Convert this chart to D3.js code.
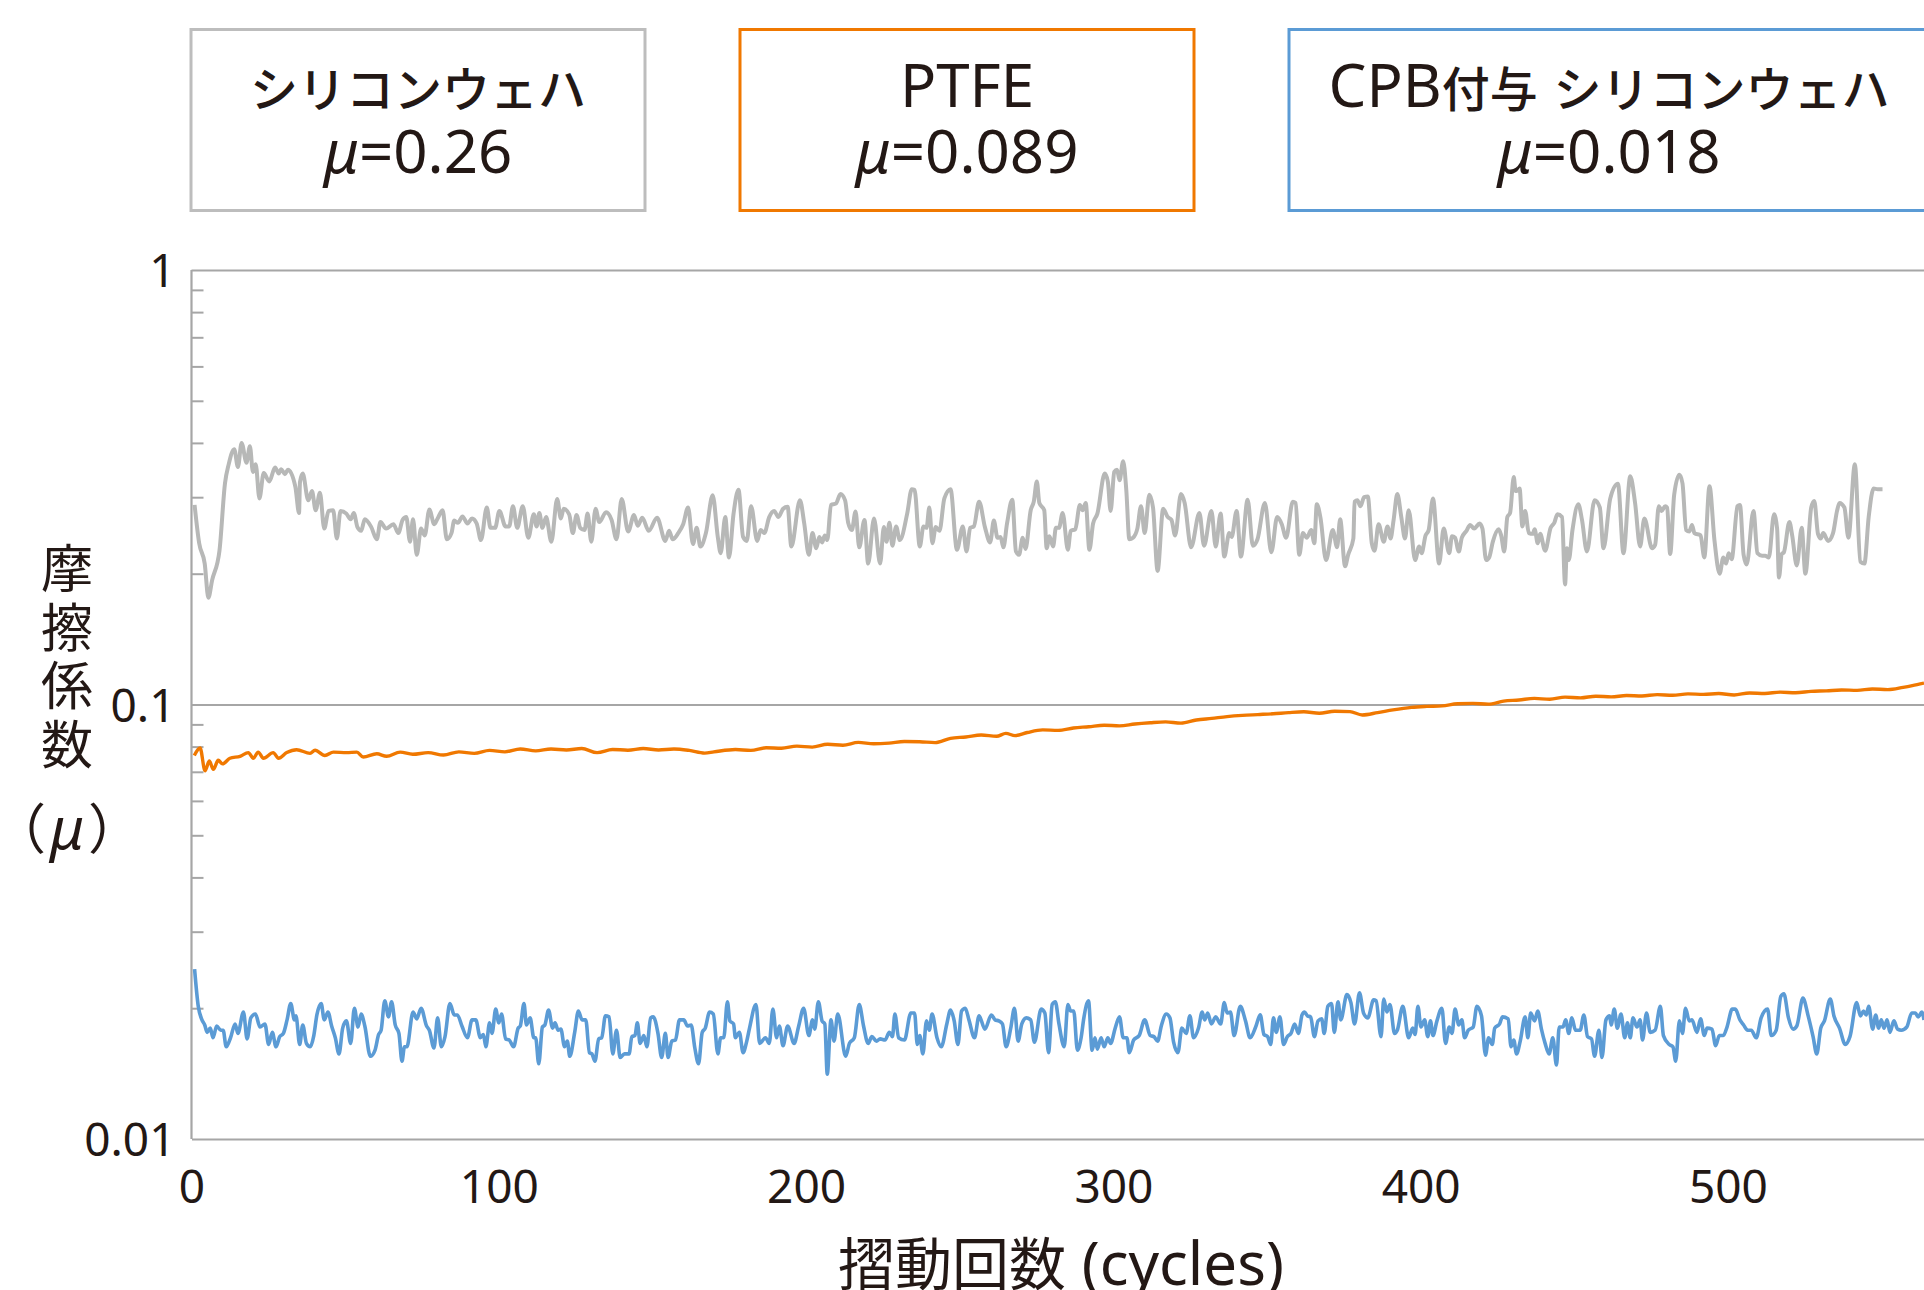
<!DOCTYPE html>
<html>
<head>
<meta charset="utf-8">
<script src="https://cdn.jsdelivr.net/npm/d3@7"></script>
<style>
html, body { margin: 0; padding: 0; background: #fff; overflow: hidden; }
svg { display: block; }
</style>
</head>
<body>
<div id="chart"></div>
<script>

// ---------- DATA ----------

var xTicks = [0, 100, 200, 300, 400, 500];
var yMajor = [0.01, 0.1, 1];
var yMinor = [0.02, 0.03, 0.04, 0.05, 0.06, 0.07, 0.08, 0.09,
              0.2, 0.3, 0.4, 0.5, 0.6, 0.7, 0.8, 0.9];

var legendNames = ['シリコンウェハ', 'PTFE', 'CPB付与 シリコンウェハ'];
var legendMu = ['0.26', '0.089', '0.018'];
var seriesColors = ['#b7b8b7', '#f07800', '#5b9bd5'];

var xTitle = '摺動回数 (cycles)';
var yTitle = ['摩', '擦', '係', '数'];

// silicon wafer  [cycle, mu]
var siliconData = [
 [1.0,.288],[2.5,.235],[4.3,.211],[5.5,.176],[6.7,.193],[9.1,.226],[10.9,.323],[12.1,.357],
 [13.9,.387],[15.1,.352],[16.3,.400],[17.9,.360],[19.0,.393],[20.0,.343],[20.9,.357],[22.1,.298],
 [23.5,.341],[25.3,.326],[27.2,.351],[28.4,.340],[29.2,.348],[30.4,.339],[31.4,.347],[33.8,.317],
 [35.0,.276],[35.3,.325],[36.2,.340],[38.0,.295],[39.2,.310],[40.4,.280],[41.8,.307],[43.2,.254],
 [44.6,.279],[46.1,.280],[47.3,.241],[48.5,.279],[50.4,.275],[51.8,.267],[52.8,.276],[54.0,.256],
 [55.2,.251],[56.4,.267],[58.5,.256],[60.3,.240],[61.5,.263],[63.3,.254],[65.7,.260],[67.3,.248],
 [68.7,.266],[69.9,.270],[71.1,.237],[72.1,.267],[73.3,.221],[74.7,.254],[75.9,.245],[77.4,.281],
 [79.0,.260],[80.1,.268],[81.7,.280],[83.1,.240],[84.6,.248],[85.5,.265],[86.7,.262],[88.2,.271],
 [89.8,.261],[91.3,.268],[92.8,.261],[94.2,.239],[96.1,.284],[97.3,.255],[98.8,.255],[100.2,.279],
 [102.2,.257],[103.4,.257],[104.6,.286],[106.0,.255],[107.8,.286],[109.6,.242],[111.4,.274],[112.3,.257],
 [113.2,.276],[114.2,.255],[115.4,.270],[117.1,.237],[119.0,.297],[120.2,.268],[121.1,.282],[122.9,.274],
 [124.1,.248],[125.3,.273],[126.5,.255],[127.9,.252],[128.9,.275],[130.1,.237],[131.5,.282],[132.7,.263],
 [134.9,.277],[136.7,.266],[138.3,.240],[140.0,.297],[142.1,.250],[144.0,.273],[145.2,.258],[146.7,.269],
 [148.8,.251],[151.5,.269],[154.2,.238],[155.4,.251],[156.6,.240],[158.4,.248],[160.0,.260],[161.6,.284],
 [163.2,.234],[164.4,.255],[165.6,.231],[167.4,.248],[169.6,.303],[171.3,.242],[172.2,.223],[173.7,.270],
 [174.9,.218],[176.4,.275],[178.0,.312],[179.5,.243],[180.7,.238],[182.1,.286],[184.1,.238],[185.2,.252],
 [186.4,.248],[188.0,.270],[189.6,.279],[191.0,.270],[192.5,.282],[194.0,.285],[195.2,.231],[198.0,.295],
 [199.4,.261],[200.9,.221],[202.1,.248],[203.3,.229],[204.3,.243],[205.2,.236],[206.1,.245],[206.9,.239],
 [208.1,.288],[209.7,.290],[211.2,.305],[212.7,.295],[213.7,.262],[214.9,.252],[216.1,.278],[217.3,.230],
 [219.0,.266],[220.2,.211],[222.1,.268],[224.1,.211],[225.3,.256],[226.2,.237],[227.1,.262],[228.1,.232],
 [229.3,.257],[230.5,.239],[232.9,.275],[234.4,.313],[235.3,.312],[237.0,.231],[238.2,.257],[239.2,.255],
 [240.1,.284],[241.1,.235],[242.2,.256],[243.4,.251],[245.0,.298],[247.0,.313],[249.1,.227],[251.0,.257],
 [252.2,.225],[253.4,.255],[254.6,.257],[256.3,.293],[258.2,.256],[259.9,.236],[261.1,.265],[262.3,.242],
 [263.3,.243],[264.2,.230],[265.4,.261],[267.1,.296],[268.3,.225],[269.3,.221],[270.5,.242],[271.4,.228],
 [273.1,.280],[274.1,.293],[275.1,.326],[275.9,.291],[277.5,.280],[278.3,.229],[279.2,.244],[280.4,.231],
 [281.3,.255],[282.3,.255],[283.5,.276],[285.2,.227],[286.1,.251],[287.6,.253],[289.1,.288],[290.0,.280],
 [291.0,.291],[292.2,.227],[293.4,.261],[294.8,.275],[297.2,.340],[298.2,.326],[299.1,.279],[300.3,.343],
 [301.2,.347],[302.0,.328],[303.2,.363],[304.2,.312],[305.2,.240],[306.4,.242],[307.8,.254],[309.0,.286],
 [310.2,.248],[311.7,.304],[312.9,.284],[314.4,.203],[316.2,.282],[317.7,.270],[318.9,.266],[320.1,.245],
 [322.0,.305],[323.2,.291],[325.3,.230],[328.0,.276],[329.5,.232],[331.9,.279],[333.3,.231],[334.9,.275],
 [336.1,.219],[337.7,.248],[338.5,.243],[340.1,.279],[341.5,.219],[343.7,.296],[345.4,.232],[346.9,.240],
 [349.3,.291],[351.4,.224],[353.3,.270],[354.8,.260],[356.2,.242],[358.4,.293],[359.3,.291],[360.5,.221],
 [361.7,.248],[362.9,.242],[364.4,.252],[365.4,.235],[366.2,.289],[367.4,.269],[369.2,.215],[371.4,.252],
 [372.8,.230],[373.8,.267],[375.4,.208],[376.4,.221],[378.1,.241],[378.5,.293],[379.4,.295],[380.4,.286],
 [381.6,.300],[382.8,.301],[384.1,.235],[385.0,.226],[386.3,.260],[388.0,.237],[389.2,.257],[390.2,.241],
 [391.2,.266],[392.4,.305],[393.7,.270],[394.9,.241],[396.1,.280],[398.2,.215],[399.5,.231],[400.3,.223],
 [401.6,.245],[402.6,.252],[404.0,.298],[406.0,.211],[407.5,.254],[409.3,.223],[410.2,.244],[411.2,.242],
 [412.4,.225],[413.4,.242],[414.9,.251],[416.1,.259],[417.4,.254],[419.2,.261],[420.1,.254],[421.3,.215],
 [422.3,.218],[423.5,.237],[425.4,.253],[426.2,.245],[427.2,.225],[428.2,.270],[429.1,.276],[430.3,.334],
 [430.9,.310],[431.5,.311],[432.2,.314],[433.1,.257],[434.0,.279],[435.2,.248],[436.5,.247],[437.1,.253],
 [438.1,.235],[438.9,.247],[440.5,.226],[442.3,.255],[443.5,.262],[444.5,.274],[446.0,.270],[447.0,.189],
 [447.6,.229],[448.2,.215],[449.4,.252],[451.3,.289],[452.5,.266],[454.1,.225],[456.6,.295],[458.3,.284],
 [459.5,.229],[461.7,.298],[464.2,.322],[466.0,.223],[468.2,.335],[469.8,.290],[471.4,.231],[472.8,.268],
 [475.3,.229],[476.3,.233],[477.5,.286],[478.4,.279],[479.6,.286],[480.2,.284],[481.2,.222],[482.5,.304],
 [484.2,.338],[485.2,.323],[486.4,.252],[487.4,.250],[488.3,.259],[489.1,.248],[491.1,.245],[492.3,.218],
 [494.0,.318],[495.6,.239],[497.3,.200],[498.5,.218],[499.4,.211],[500.2,.223],[501.2,.216],[503.1,.286],
 [503.9,.288],[505.1,.221],[506.1,.210],[508.3,.279],[509.6,.223],[511.1,.220],[512.1,.220],[513.3,.218],
 [515.0,.274],[516.0,.254],[516.6,.196],[517.5,.222],[518.2,.224],[520.0,.263],[520.9,.245],[522.4,.209],
 [524.0,.255],[525.2,.200],[527.1,.284],[528.1,.294],[529.3,.247],[530.2,.241],[531.0,.248],[532.6,.238],
 [534.2,.248],[535.5,.279],[536.3,.291],[537.9,.284],[539.2,.242],[541.3,.357],[543.1,.213],[544.4,.211],
 [545.8,.270],[547.4,.314],[548.7,.313],[550.3,.313]
];

// PTFE  [cycle, mu]
var ptfeData = [
 [0.9,.0763],[2.8,.0794],[4.4,.0704],[5.8,.0741],[7.1,.0709],[8.7,.0744],[10.1,.0730],[12.5,.0752],
 [15.8,.0760],[18.5,.0775],[20.1,.0752],[21.7,.0777],[23.4,.0752],[26.6,.0775],[28.3,.0752],[31.0,.0775],
 [34.2,.0787],[38.6,.0772],[40.2,.0785],[43.4,.0763],[46.2,.0777],[50.5,.0775],[53.8,.0777],[55.9,.0757],
 [60.3,.0770],[63.5,.0760],[67.9,.0777],[72,.0768],[77,.0775],[82,.0765],[87,.0778],[92,.0772],
 [97,.0784],[102,.0778],[107,.0790],[112,.0782],[117,.0790],[122,.0786],[127,.0792],[132,.0775],
 [137,.0788],[142,.0785],[147,.0792],[152,.0786],[157,.0790],[162,.0784],[167,.0773],[170,.0778],
 [177,.0788],[182,.0784],[187,.0795],[192,.0793],[197,.0802],[202,.0798],[207,.0810],[212,.0806],
 [217,.0818],[222,.0812],[227,.0815],[232,.0822],[237,.0821],[242,.0817],[247,.0836],[252,.0842],
 [257,.0851],[262,.0845],[265,.0858],[268,.0848],[272,.0862],[277,.0874],[282,.0872],[287,.0883],
 [292,.0889],[297,.0896],[302,.0893],[307,.0902],[312,.0908],[317,.0912],[322,.0906],[327,.0921],
 [332,.0929],[337,.0938],[342,.0944],[347,.0948],[352,.0952],[357,.0958],[362,.0962],[367,.0955],
 [372,.0965],[377,.0963],[381,.0946],[386,.0958],[391,.0972],[397,.0985],[402,.0990],[407,.0993],
 [412,.1004],[417,.1006],[422,.1002],[427,.1018],[432,.1024],[437,.1033],[442,.1028],[447,.1040],
 [452,.1036],[457,.1045],[462,.1041],[467,.1049],[472,.1046],[477,.1054],[482,.1050],[487,.1058],
 [492,.1055],[497,.1060],[502,.1052],[507,.1063],[512,.1060],[517,.1068],[522,.1064],[527,.1072],
 [532,.1075],[537,.1080],[542,.1078],[547,.1086],[552,.1082],[557,.1095],[560,.1105],[563.8,.1120]
];

// CPB coated silicon wafer  [cycle, mu]
var cpbData = [
 [1.0,.0246],[2.2,.0202],[3.4,.0188],[4.3,.0183],[5.1,.0176],[6.1,.0180],[7.0,.0171],[8.2,.0182],
 [9.5,.0178],[10.3,.0178],[11.3,.0163],[12.7,.0171],[14.2,.0184],[15.1,.0175],[16.9,.0196],[18.1,.0170],
 [19.3,.0190],[20.8,.0194],[22.3,.0181],[23.9,.0184],[25.1,.0165],[26.3,.0176],[27.5,.0163],[28.7,.0172],
 [29.9,.0175],[31.1,.0188],[32.3,.0205],[33.5,.0188],[34.0,.0192],[35.2,.0165],[36.2,.0183],[37.4,.0166],
 [38.6,.0163],[39.8,.0173],[40.8,.0193],[42.2,.0205],[43.2,.0188],[44.4,.0196],[45.6,.0182],[46.8,.0171],
 [48.0,.0157],[49.2,.0180],[50.4,.0187],[51.8,.0166],[53.0,.0200],[54.2,.0181],[55.2,.0194],[56.4,.0182],
 [58.2,.0155],[59.7,.0160],[60.9,.0174],[61.7,.0178],[62.9,.0208],[64.1,.0191],[65.1,.0207],[66.3,.0183],
 [67.5,.0175],[68.5,.0151],[69.3,.0163],[70.1,.0163],[72.1,.0196],[73.3,.0189],[74.7,.0200],[76.5,.0182],
 [77.4,.0178],[78.9,.0162],[80.1,.0190],[81.3,.0163],[82.5,.0172],[84.1,.0205],[85.5,.0193],[86.5,.0193],
 [88.0,.0182],[89.8,.0171],[91.3,.0188],[92.5,.0188],[94.0,.0171],[95.0,.0174],[95.8,.0163],[97.0,.0185],
 [97.8,.0175],[99.0,.0199],[100.0,.0185],[100.9,.0194],[102.2,.0170],[103.4,.0169],[104.8,.0163],[106.3,.0180],
 [107.0,.0182],[108.2,.0205],[109.0,.0183],[110.2,.0190],[111.4,.0171],[112.0,.0171],[113.0,.0149],[114.2,.0181],
 [115.0,.0183],[116.2,.0198],[117.5,.0180],[118.3,.0185],[119.3,.0178],[120.2,.0179],[121.4,.0163],[122.3,.0168],
 [123.1,.0155],[124.7,.0176],[125.9,.0197],[127.1,.0188],[128.3,.0188],[129.5,.0158],[130.3,.0157],[131.3,.0151],
 [132.5,.0170],[133.5,.0171],[134.7,.0192],[135.9,.0191],[137.1,.0157],[138.3,.0178],[139.5,.0154],[140.9,.0157],
 [142.4,.0157],[143.3,.0172],[144.3,.0173],[145.1,.0185],[146.0,.0166],[147.2,.0173],[148.2,.0163],[149.4,.0190],
 [150.3,.0191],[151.8,.0175],[153.0,.0154],[154.2,.0175],[155.1,.0154],[156.3,.0168],[157.5,.0169],[158.8,.0188],
 [160.2,.0188],[161.4,.0182],[162.6,.0183],[163.8,.0162],[165.0,.0149],[166.2,.0176],[167.2,.0180],[168.6,.0196],
 [169.8,.0194],[171.3,.0157],[172.2,.0171],[173.2,.0171],[174.4,.0207],[175.2,.0187],[176.4,.0184],[177.0,.0171],
 [178.3,.0176],[179.5,.0158],[180.7,.0168],[181.6,.0180],[183.7,.0204],[184.9,.0166],[186.8,.0171],[188.0,.0166],
 [189.2,.0199],[190.4,.0171],[191.3,.0182],[192.5,.0164],[194.0,.0182],[196.1,.0166],[197.6,.0182],[199.2,.0200],
 [200.9,.0173],[202.1,.0188],[202.8,.0179],[204.0,.0207],[205.2,.0187],[206.1,.0184],[206.9,.0141],[208.1,.0188],
 [209.1,.0168],[210.3,.0194],[212.9,.0155],[214.1,.0166],[215.7,.0171],[217.3,.0204],[218.7,.0182],[220.2,.0166],
 [221.4,.0172],[222.9,.0168],[224.1,.0170],[225.7,.0169],[227.1,.0176],[228.1,.0172],[228.9,.0194],[230.1,.0171],
 [232.0,.0169],[234.1,.0195],[235.3,.0195],[236.2,.0165],[237.0,.0173],[238.0,.0157],[239.2,.0187],[240.1,.0178],
 [241.0,.0194],[242.6,.0171],[244.0,.0163],[245.8,.0184],[247.0,.0198],[248.2,.0187],[249.4,.0165],[250.6,.0197],
 [251.8,.0200],[253.0,.0188],[254.8,.0171],[256.3,.0192],[258.2,.0179],[260.3,.0193],[261.5,.0188],[262.7,.0187],
 [263.9,.0184],[265.1,.0163],[266.6,.0180],[267.8,.0200],[269.0,.0168],[270.2,.0184],[271.7,.0190],[273.1,.0188],
 [274.3,.0167],[276.5,.0199],[277.7,.0195],[278.9,.0158],[280.1,.0204],[281.1,.0207],[282.3,.0184],[284.0,.0163],
 [285.2,.0204],[286.1,.0197],[287.1,.0197],[288.3,.0160],[289.5,.0171],[290.4,.0190],[291.9,.0208],[293.1,.0160],
 [294.0,.0171],[294.8,.0161],[296.0,.0171],[297.0,.0163],[298.2,.0171],[299.1,.0166],[300.6,.0180],[302.0,.0191],
 [303.2,.0171],[304.4,.0171],[305.2,.0158],[306.6,.0169],[308.4,.0173],[310.2,.0188],[312.0,.0173],[313.2,.0172],
 [314.4,.0168],[315.6,.0182],[317.2,.0194],[318.4,.0190],[319.6,.0167],[321.0,.0158],[322.3,.0180],[323.7,.0175],
 [324.9,.0192],[326.1,.0171],[327.7,.0180],[328.9,.0196],[329.7,.0188],[330.7,.0195],[331.9,.0184],[333.3,.0191],
 [334.9,.0184],[336.1,.0206],[337.0,.0195],[338.1,.0196],[339.3,.0173],[341.3,.0202],[343.0,.0187],[344.5,.0171],
 [346.3,.0181],[347.8,.0193],[349.0,.0174],[350.2,.0172],[351.2,.0165],[352.1,.0190],[353.0,.0176],[354.2,.0191],
 [355.4,.0165],[356.6,.0172],[357.8,.0175],[359.0,.0184],[360.2,.0175],[361.4,.0193],[362.2,.0196],[363.2,.0192],
 [364.2,.0191],[365.4,.0172],[366.6,.0187],[367.8,.0189],[368.6,.0175],[369.8,.0202],[371.0,.0205],[371.9,.0176],
 [373.1,.0207],[374.0,.0188],[376.0,.0215],[377.3,.0206],[378.5,.0184],[380.1,.0217],[381.4,.0195],[382.8,.0190],
 [384.7,.0209],[385.5,.0208],[387.1,.0172],[388.0,.0210],[389.0,.0196],[390.0,.0204],[391.5,.0175],[392.4,.0178],
 [394.2,.0202],[396.1,.0171],[397.4,.0180],[398.2,.0174],[399.1,.0202],[400.1,.0181],[401.3,.0188],[402.3,.0172],
 [403.2,.0187],[404.0,.0173],[405.3,.0187],[406.9,.0200],[408.1,.0166],[409.3,.0181],[410.2,.0175],[411.2,.0199],
 [412.4,.0183],[413.4,.0188],[414.3,.0171],[415.5,.0178],[417.1,.0181],[418.3,.0202],[419.8,.0192],[421.1,.0156],
 [422.1,.0171],[423.3,.0165],[424.1,.0180],[425.7,.0184],[426.6,.0191],[428.5,.0189],[429.4,.0163],[430.3,.0169],
 [431.2,.0157],[432.4,.0168],[434.0,.0191],[434.9,.0171],[435.8,.0195],[437.1,.0187],[438.1,.0197],[439.3,.0179],
 [440.5,.0166],[441.8,.0157],[443.0,.0171],[444.2,.0148],[445.1,.0181],[446.3,.0181],[447.2,.0188],[448.2,.0175],
 [449.2,.0190],[450.4,.0178],[451.9,.0178],[453.1,.0193],[454.3,.0172],[455.6,.0170],[456.6,.0155],[458.0,.0178],
 [459.0,.0154],[460.3,.0188],[461.5,.0192],[462.0,.0183],[463.0,.0199],[464.0,.0180],[465.2,.0194],[466.4,.0171],
 [467.3,.0185],[468.2,.0171],[469.1,.0190],[470.4,.0181],[471.4,.0188],[472.2,.0169],[473.5,.0195],[474.7,.0176],
 [476.3,.0178],[478.0,.0202],[479.0,.0173],[480.9,.0165],[482.1,.0163],[483.0,.0151],[484.2,.0187],[485.2,.0175],
 [486.2,.0200],[487.4,.0187],[488.3,.0188],[489.9,.0176],[491.1,.0189],[492.3,.0173],[493.2,.0180],[494.8,.0179],
 [496.0,.0164],[497.2,.0173],[498.5,.0173],[499.7,.0181],[501.4,.0199],[502.4,.0199],[503.9,.0188],[505.1,.0183],
 [506.4,.0178],[507.6,.0178],[509.2,.0171],[510.8,.0190],[512.9,.0199],[514.1,.0173],[515.7,.0178],[517.2,.0213],
 [518.2,.0216],[519.7,.0190],[521.2,.0179],[522.4,.0182],[524.4,.0211],[526.1,.0192],[527.7,.0172],[528.9,.0157],
 [530.2,.0180],[531.4,.0187],[533.3,.0210],[534.5,.0192],[536.3,.0180],[538.2,.0165],[539.7,.0172],[541.9,.0206],
 [543.1,.0192],[544.1,.0197],[545.0,.0193],[545.8,.0202],[547.1,.0179],[548.1,.0193],[549.0,.0180],[549.9,.0188],
 [550.8,.0180],[551.8,.0188],[552.7,.0176],[554.0,.0187],[555.2,.0179],[556.4,.0178],[558.2,.0181],[559.8,.0195],
 [561.0,.0195],[561.9,.0191],[563.1,.0196],[563.8,.0188]
];

var seriesData = [siliconData, ptfeData, cpbData];


// ---------- LAYOUT ----------

var W = 1924, H = 1290;
var plot = { left: 191.5, right: 1924, top: 270, bottom: 1139 };

var axisColor = '#a6a6a6',
    textColor = '#231815',
    latinFont = '"Noto Sans", "Open Sans", sans-serif',
    cjkFont = '"Noto Sans CJK JP", "Noto Sans", sans-serif';

var svg = d3.select('#chart').append('svg')
    .attr('width', W)
    .attr('height', H);

var xScale = d3.scaleLinear()
    .domain([0, 563.8])
    .range([plot.left, plot.right]);

var yScale = d3.scaleLog()
    .domain([0.01, 1])
    .range([plot.bottom, plot.top]);

// mixed japanese / latin text -> tspans with own font + size
var cjkRe = /[\u3000-\u30ff\u4e00-\u9fff\uff00-\uffef]/;
function mixedText(sel, str, cjkSize, latinSize, cjkWeight) {
  var parts = str.match(/[\u3000-\u30ff\u4e00-\u9fff\uff00-\uffef]+|[^\u3000-\u30ff\u4e00-\u9fff\uff00-\uffef]+/g);
  parts.forEach(function (p) {
    var isCjk = cjkRe.test(p);
    sel.append('tspan')
      .attr('font-family', isCjk ? cjkFont : latinFont)
      .attr('font-size', isCjk ? cjkSize : latinSize)
      .attr('font-weight', isCjk ? (cjkWeight || 400) : 400)
      .text(p);
  });
}


//************ GRID + AXES ************

// horizontal gridlines at 1 and 0.1
svg.append('g')
  .attr('transform', 'translate(' + plot.left + ',0)')
  .call(d3.axisLeft(yScale).tickValues([0.1, 1]).tickSize(-(plot.right - plot.left)).tickFormat(''))
  .call(function (g) { g.select('.domain').remove(); })
  .selectAll('line')
    .attr('stroke', axisColor)
    .attr('stroke-width', 2);

// minor ticks, pointing into the plot
svg.append('g')
  .attr('transform', 'translate(' + plot.left + ',0)')
  .call(d3.axisLeft(yScale).tickValues(yMinor).tickSize(-12).tickFormat(''))
  .call(function (g) { g.select('.domain').remove(); })
  .selectAll('line')
    .attr('stroke', axisColor)
    .attr('stroke-width', 2);

// y labels
var yLab = svg.append('g')
  .attr('transform', 'translate(' + (plot.left - 16) + ',0)')
  .call(d3.axisLeft(yScale).tickValues(yMajor).tickSize(0).tickPadding(0)
        .tickFormat(function (d) { return String(d); }));
yLab.select('.domain').remove();
yLab.selectAll('text')
  .attr('font-family', latinFont)
  .attr('font-size', 46)
  .attr('fill', textColor)
  .attr('dy', '0.36em');

// left axis line
svg.append('line')
  .attr('x1', xScale(0)).attr('x2', xScale(0))
  .attr('y1', yScale(1)).attr('y2', yScale(0.01))
  .attr('stroke', axisColor).attr('stroke-width', 2.2);

// bottom axis + labels
var xAx = svg.append('g')
  .attr('transform', 'translate(0,' + plot.bottom + ')')
  .call(d3.axisBottom(xScale).tickValues(xTicks).tickSize(0).tickPadding(0));
xAx.select('.domain').attr('stroke', axisColor).attr('stroke-width', 2.2);
xAx.selectAll('text')
  .attr('font-family', latinFont)
  .attr('font-size', 46)
  .attr('fill', textColor)
  .attr('y', 48)
  .attr('dy', '0.34em');


//************ SERIES ************

var line = d3.line()
  .x(function (d) { return xScale(d[0]); })
  .y(function (d) { return yScale(d[1]); })
  .curve(d3.curveMonotoneX);

var widths = [4, 3.4, 3.6];
svg.append('g').selectAll('path')
  .data(seriesData).enter()
  .append('path')
    .attr('d', line)
    .attr('fill', 'none')
    .attr('stroke', function (d, i) { return seriesColors[i]; })
    .attr('stroke-width', function (d, i) { return widths[i]; })
    .attr('stroke-linejoin', 'round');


//************ LEGEND BOXES ************

var boxX = [191, 740, 1289], boxW = [454, 454, 640];
var legend = svg.append('g').selectAll('g')
  .data(legendNames).enter()
  .append('g');

legend.append('rect')
  .attr('x', function (d, i) { return boxX[i]; })
  .attr('y', 29.5)
  .attr('width', function (d, i) { return boxW[i]; })
  .attr('height', 181)
  .attr('fill', '#fff')
  .attr('stroke', function (d, i) { return i === 0 ? '#bdbdbd' : seriesColors[i]; })
  .attr('stroke-width', 3);

legend.each(function (d, i) {
  var cx = boxX[i] + boxW[i] / 2;
  var t1 = d3.select(this).append('text')
    .attr('x', cx).attr('y', 107)
    .attr('text-anchor', 'middle')
    .attr('fill', textColor);
  mixedText(t1, d, 48, 60, 500);

  var t2 = d3.select(this).append('text')
    .attr('x', cx).attr('y', 173)
    .attr('text-anchor', 'middle')
    .attr('fill', textColor)
    .attr('font-family', latinFont)
    .attr('font-size', 60);
  t2.append('tspan').attr('font-style', 'italic').text('μ');
  t2.append('tspan').text('=' + legendMu[i]);
});


//************ AXIS TITLES ************

// y title, stacked characters
svg.append('g').selectAll('text')
  .data(yTitle).enter()
  .append('text')
    .attr('x', 67)
    .attr('y', function (d, i) { return 588 + i * 58.5; })
    .attr('text-anchor', 'middle')
    .attr('font-family', cjkFont)
    .attr('font-size', 52)
    .attr('fill', textColor)
    .text(function (d) { return d; });

var muT = svg.append('text')
  .attr('x', 67).attr('y', 849)
  .attr('text-anchor', 'middle')
  .attr('fill', textColor)
  .attr('font-family', cjkFont)
  .attr('font-size', 54);
muT.append('tspan').text('（');
muT.append('tspan').attr('dx', 4).attr('font-family', latinFont).attr('font-style', 'italic').attr('font-size', 58).text('μ');
muT.append('tspan').attr('dx', 4).text('）');

// x title
var xt = svg.append('text')
  .attr('x', 1061).attr('y', 1285)
  .attr('text-anchor', 'middle')
  .attr('fill', textColor);
mixedText(xt, xTitle, 57, 60);

</script>
</body>
</html>
